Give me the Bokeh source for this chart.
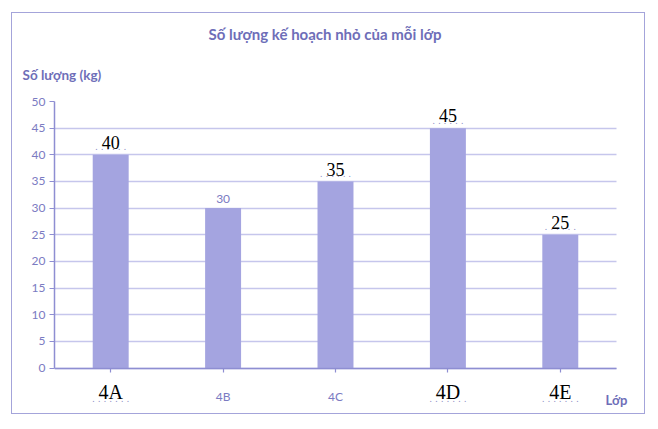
from bokeh.plotting import figure
from bokeh.models import (ColumnDataSource, Range1d, LabelSet, Label, Title,
                          BoxAnnotation, SingleIntervalTicker, FixedTicker)
from bokeh.core.properties import value
from bokeh.embed import file_html
from bokeh.resources import INLINE

# data
classes = ["4A", "4B", "4C", "4D", "4E"]
amounts = [40, 30, 35, 45, 25]
# labels that were written in by hand (serif, black) vs printed with the chart
hand_value = [True, False, True, True, True]
hand_class = [True, False, False, True, True]

TEXT = "#7b7bc2"
TITLE = "#6e6eb8"
BAR = "#a4a4e0"
GRID = "#c6c6ec"
AXIS = "#8e8ed2"
DOTS = "#8c8cc4"

centers = [i + 0.5 for i in range(len(classes))]

p = figure(
    x_range=Range1d(0, 5.267),
    y_range=Range1d(-8.9, 50),
    width=634, height=402,
    output_backend="svg", toolbar_location=None,
    min_border_left=42, min_border_right=0,
    min_border_top=88, min_border_bottom=0,
)
p.outline_line_color = None
p.styles = {"margin-left": "11px", "margin-top": "12px",
            "border": "1.5px solid #a4a4da"}

# axes
p.yaxis.ticker = SingleIntervalTicker(interval=5)
p.yaxis.bounds = (0, 50)
p.yaxis.minor_tick_line_color = None
p.yaxis.major_tick_in = 0
p.yaxis.major_tick_out = 5
p.yaxis.major_label_standoff = 4
p.yaxis.major_label_text_color = TEXT
p.yaxis.major_label_text_font = "Lato"
p.yaxis.major_label_text_font_size = "12px"
p.yaxis.axis_line_color = AXIS
p.yaxis.axis_line_width = 1.5
p.yaxis.major_tick_line_color = AXIS

# x axis sits at y=0 inside the frame; its class names are drawn below as labels
p.xaxis.fixed_location = 0
p.xaxis.bounds = (0, len(classes))
p.xaxis.ticker = FixedTicker(ticks=[], minor_ticks=centers)
p.xaxis.minor_tick_in = 0
p.xaxis.minor_tick_out = 4
p.xaxis.minor_tick_line_color = AXIS
p.xaxis.minor_tick_line_width = 1.2
p.xaxis.axis_line_color = AXIS
p.xaxis.axis_line_width = 1.5

p.xgrid.grid_line_color = None
p.ygrid.grid_line_color = GRID
p.ygrid.grid_line_width = 1.3
# grid stops where the categories end
p.add_layout(BoxAnnotation(left=len(classes), fill_color="white", fill_alpha=1,
                           line_color=None, level="underlay"))

p.vbar(x=centers, top=amounts, width=0.32, fill_color=BAR, line_color=None)

# titles
p.add_layout(Title(text="Số lượng (kg)", align="left", offset=-32,
                   text_font="Lato", text_font_size="13.5px", text_font_style="bold",
                   text_color=TITLE, standoff=38), "above")
p.add_layout(Title(text="Số lượng kế hoạch nhỏ của mỗi lớp", align="left", offset=154,
                   text_font="Lato", text_font_size="15px", text_font_style="bold",
                   text_color=TITLE, standoff=6), "above")

# value labels above the bars
hv = [i for i, h in enumerate(hand_value) if h]
pv = [i for i, h in enumerate(hand_value) if not h]
hand_src = ColumnDataSource(dict(
    x=[centers[i] for i in hv],
    y=[amounts[i] + 1.1 for i in hv],
    dy=[amounts[i] + 0.85 for i in hv],
    t=[str(amounts[i]) for i in hv],
))
print_src = ColumnDataSource(dict(
    x=[centers[i] for i in pv],
    y=[amounts[i] + 1.0 for i in pv],
    t=[str(amounts[i]) for i in pv],
))
p.add_layout(LabelSet(source=hand_src, x="x", y="dy", text=value(". . . . . ."),
                      text_align="center", text_baseline="alphabetic",
                      text_font=value("DejaVu Sans"), text_font_size="9px", text_color=DOTS))
p.add_layout(LabelSet(source=hand_src, x="x", y="y", text="t", text_align="center",
                      text_baseline="alphabetic", text_font=value("Liberation Serif"),
                      text_font_size="18px", text_color="black"))
p.add_layout(LabelSet(source=print_src, x="x", y="y", text="t", text_align="center",
                      text_baseline="alphabetic", text_font=value("Lato"),
                      text_font_size="12px", text_color=TEXT))

# class labels under the axis
hc = [i for i, h in enumerate(hand_class) if h]
pc = [i for i, h in enumerate(hand_class) if not h]
hc_src = ColumnDataSource(dict(x=[centers[i] for i in hc], t=[classes[i] for i in hc],
                               y=[-5.8] * len(hc), dy=[-6.3] * len(hc)))
pc_src = ColumnDataSource(dict(x=[centers[i] for i in pc], t=[classes[i] for i in pc],
                               y=[-6.2] * len(pc)))
p.add_layout(LabelSet(source=hc_src, x="x", y="dy", text=value(". . . . . . ."),
                      text_align="center", text_baseline="alphabetic",
                      text_font=value("DejaVu Sans"), text_font_size="9px", text_color=DOTS))
p.add_layout(LabelSet(source=hc_src, x="x", y="y", text="t", text_align="center",
                      text_baseline="alphabetic", text_font=value("Liberation Serif"),
                      text_font_size="20px", text_color="black"))
p.add_layout(LabelSet(source=pc_src, x="x", y="y", text="t", text_align="center",
                      text_baseline="alphabetic", text_font=value("Lato"),
                      text_font_size="12px", text_color=TEXT))

p.add_layout(Label(x=len(classes), y=-6.0, x_offset=-11, text="Lớp", text_align="left",
                   text_baseline="alphabetic", text_font="Lato", text_font_size="13px",
                   text_font_style="bold", text_color=TITLE))

open("out.html", "w").write(file_html(p, INLINE))
